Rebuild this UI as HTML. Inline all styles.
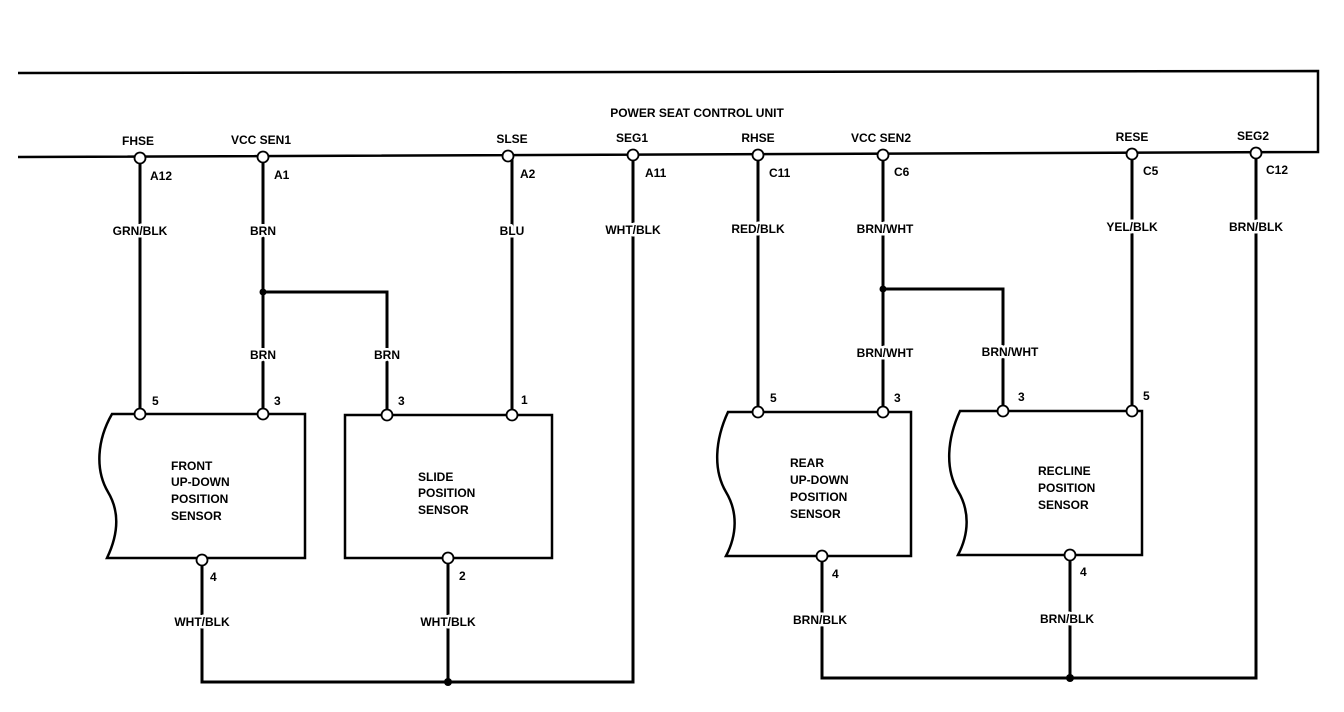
<!DOCTYPE html>
<html><head><meta charset="utf-8"><style>
body{margin:0;background:#fff}
svg{display:block}
text{font-family:"Liberation Sans",sans-serif;font-weight:bold;font-size:12px;fill:#000}
.w text{stroke:#fff;stroke-width:5px;paint-order:stroke;stroke-linejoin:round}
</style></head><body>
<svg width="1344" height="712" viewBox="0 0 1344 712" xmlns="http://www.w3.org/2000/svg">
<g fill="none" stroke="#000" stroke-width="3">
<polyline points="18,73 1318,71 1318,152 18,157" stroke-width="2.5"/>
<line x1="140" y1="158" x2="140" y2="414"/>
<line x1="263" y1="157" x2="263" y2="414"/>
<polyline points="263,292 387,292 387,415"/>
<line x1="512" y1="156" x2="512" y2="415"/>
<polyline points="633,155 633,682 202,682 202,560"/>
<line x1="448" y1="558" x2="448" y2="682"/>
<line x1="758" y1="155" x2="758" y2="412"/>
<line x1="883" y1="155" x2="883" y2="412"/>
<polyline points="883,289 1003,289 1003,411"/>
<line x1="1132" y1="154" x2="1132" y2="411"/>
<polyline points="1256,153 1256,678 822,678 822,556"/>
<line x1="1070" y1="555" x2="1070" y2="678"/>
</g>
<g fill="#fff" stroke="#000" stroke-width="2.5">
<path d="M112,414 L305,414 L305,558 L107,558 C118,535 120,512 108,492 C95,470 97,440 112,414 Z"/>
<rect x="345" y="415" width="207" height="143"/>
<path d="M728,412 L911,412 L911,556 L726,556 C737,535 738,512 726,492 C713,470 715,440 728,412 Z"/>
<path d="M960,411 L1142,411 L1142,555 L958,555 C969,534 970,511 958,491 C945,469 947,439 960,411 Z"/>
</g>
<g fill="#fff" stroke="#000" stroke-width="1.8">
<circle cx="140" cy="158" r="5.5"/><circle cx="263" cy="157" r="5.5"/><circle cx="508" cy="156" r="5.5"/><circle cx="633" cy="155" r="5.5"/>
<circle cx="758" cy="155" r="5.5"/><circle cx="883" cy="155" r="5.5"/><circle cx="1132" cy="154" r="5.5"/><circle cx="1256" cy="153" r="5.5"/>
<circle cx="140" cy="414" r="5.5"/><circle cx="263" cy="414" r="5.5"/><circle cx="202" cy="560" r="5.5"/>
<circle cx="387" cy="415" r="5.5"/><circle cx="512" cy="415" r="5.5"/><circle cx="448" cy="558" r="5.5"/>
<circle cx="758" cy="412" r="5.5"/><circle cx="883" cy="412" r="5.5"/><circle cx="822" cy="556" r="5.5"/>
<circle cx="1003" cy="411" r="5.5"/><circle cx="1132" cy="411" r="5.5"/><circle cx="1070" cy="555" r="5.5"/>
</g>
<g fill="#000"><circle cx="263" cy="292" r="3.5"/><circle cx="883" cy="289" r="3.5"/><circle cx="448" cy="682" r="4"/><circle cx="1070" cy="678" r="4"/></g>
<text x="697" y="117" text-anchor="middle">POWER SEAT CONTROL UNIT</text>
<g text-anchor="middle">
<text x="138" y="145">FHSE</text><text x="261" y="144">VCC SEN1</text><text x="512" y="143">SLSE</text><text x="632" y="142">SEG1</text>
<text x="758" y="142">RHSE</text><text x="881" y="142">VCC SEN2</text><text x="1132" y="141">RESE</text><text x="1253" y="140">SEG2</text>
</g>
<g text-anchor="middle" class="w">
<text x="140" y="235">GRN/BLK</text><text x="263" y="235">BRN</text><text x="512" y="235">BLU</text><text x="633" y="234">WHT/BLK</text>
<text x="758" y="233">RED/BLK</text><text x="885" y="233">BRN/WHT</text><text x="1132" y="231">YEL/BLK</text><text x="1256" y="231">BRN/BLK</text>
<text x="263" y="359">BRN</text><text x="387" y="359">BRN</text><text x="885" y="357">BRN/WHT</text><text x="1010" y="356">BRN/WHT</text>
<text x="202" y="626">WHT/BLK</text><text x="448" y="626">WHT/BLK</text><text x="820" y="624">BRN/BLK</text><text x="1067" y="623">BRN/BLK</text>
</g>
<text x="150" y="180">A12</text><text x="274" y="179">A1</text><text x="520" y="178">A2</text><text x="645" y="177">A11</text>
<text x="769" y="177">C11</text><text x="894" y="176">C6</text><text x="1143" y="175">C5</text><text x="1266" y="174">C12</text>
<text x="152" y="405">5</text><text x="274" y="405">3</text><text x="210" y="581">4</text>
<text x="398" y="405">3</text><text x="521" y="404">1</text><text x="459" y="580">2</text>
<text x="770" y="402">5</text><text x="894" y="402">3</text><text x="832" y="578">4</text>
<text x="1018" y="401">3</text><text x="1143" y="400">5</text><text x="1080" y="576">4</text>
<text x="171" y="470">FRONT</text><text x="171" y="486">UP-DOWN</text><text x="171" y="503">POSITION</text><text x="171" y="520">SENSOR</text>
<text x="418" y="481">SLIDE</text><text x="418" y="497">POSITION</text><text x="418" y="514">SENSOR</text>
<text x="790" y="467">REAR</text><text x="790" y="484">UP-DOWN</text><text x="790" y="501">POSITION</text><text x="790" y="518">SENSOR</text>
<text x="1038" y="475">RECLINE</text><text x="1038" y="492">POSITION</text><text x="1038" y="509">SENSOR</text>
</svg>
</body></html>
